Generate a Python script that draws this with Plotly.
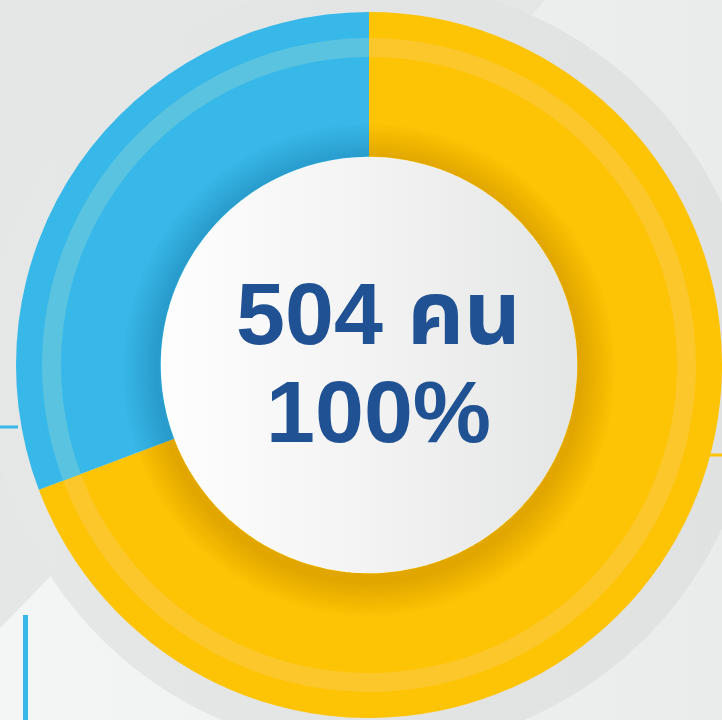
import numpy as np
import plotly.graph_objects as go

# ---------------- data ----------------
categories = ["กลุ่ม A", "กลุ่ม B"]
values = [349, 155]
slice_colors = ["#fdc305", "#37b8e8"]
band_colors = ["#fcc72a", "#5ac3e0"]
center_line1 = "504 คน"
center_line2 = "100%"

W, H = 722, 720
CX, CY = 369, 365      # donut centre (pixels, y down)
R = 353                 # outer radius
HOLE = 0.59
R_IN = R * HOLE
BAND_OUT, BAND_IN = 327, 308


def circle_pts(cx, cy, r, n=240, reverse=False):
    t = np.linspace(0, 2 * np.pi, n)
    if reverse:
        t = t[::-1]
    return cx + r * np.cos(t), cy + r * np.sin(t)


def annulus_path(cx_o, cy_o, r_o, cx_i, cy_i, r_i, n=200):
    xo, yo = circle_pts(cx_o, cy_o, r_o, n)
    xi, yi = circle_pts(cx_i, cy_i, r_i, n, reverse=True)
    p = "M" + " L".join(f"{x:.2f},{y:.2f}" for x, y in zip(xo, yo)) + " Z "
    p += "M" + " L".join(f"{x:.2f},{y:.2f}" for x, y in zip(xi, yi)) + " Z"
    return p


fig = go.Figure()

# background: light gradient
fig.add_trace(go.Scatter(
    x=[0, W, W, 0, 0], y=[0, 0, H, H, 0], mode="lines", line=dict(width=0),
    fill="toself", fillgradient=dict(type="horizontal",
                                     colorscale=[[0, "#f4f5f5"], [1, "#eaebeb"]]),
    hoverinfo="skip"))
# darker diagonal region (top-left)
fig.add_trace(go.Scatter(
    x=[0, 545, 47, 0, 0], y=[0, 0, 580, 628, 0], mode="lines", line=dict(width=0),
    fill="toself", fillcolor="#e5e6e6", hoverinfo="skip"))
# large grey circle behind donut
gx, gy = circle_pts(373, 366, 385)
fig.add_trace(go.Scatter(
    x=gx, y=gy, mode="lines", line=dict(width=0), fill="toself",
    fillgradient=dict(type="horizontal",
                      colorscale=[[0, "#e6e7e7"], [1, "#e0e1e1"]]),
    hoverinfo="skip"))
# connector lines
fig.add_trace(go.Scatter(x=[0, 18], y=[427, 427], mode="lines",
                         line=dict(color="#37b8e8", width=3), hoverinfo="skip"))
fig.add_trace(go.Scatter(x=[700, W], y=[455, 455], mode="lines",
                         line=dict(color="#fdc305", width=3), hoverinfo="skip"))
fig.add_trace(go.Scatter(x=[25.5, 25.5], y=[615, H], mode="lines",
                         line=dict(color="#37b8e8", width=5), hoverinfo="skip"))
# white centre disc with horizontal gradient
wx, wy = circle_pts(CX, CY, R_IN + 3)
fig.add_trace(go.Scatter(
    x=wx, y=wy, mode="lines", line=dict(width=0), fill="toself",
    fillgradient=dict(type="horizontal",
                      colorscale=[[0, "#fefefe"], [0.5, "#f3f3f3"], [1, "#e4e5e5"]]),
    hoverinfo="skip"))

# donut
fig.add_trace(go.Pie(
    labels=categories, values=values, hole=HOLE, sort=False, direction="clockwise",
    rotation=0, marker=dict(colors=slice_colors, line=dict(width=0)),
    textinfo="none", hoverinfo="label+value",
    domain=dict(x=[(CX - R) / W, min(1.0, (CX + R) / W)],
                y=[1 - (CY + R) / H, 1 - (CY - R) / H])))
# lighter band ring
fig.add_trace(go.Pie(
    labels=categories, values=values, hole=BAND_IN / BAND_OUT, sort=False,
    direction="clockwise", rotation=0,
    marker=dict(colors=band_colors, line=dict(width=0)),
    textinfo="none", hoverinfo="skip",
    domain=dict(x=[(CX - BAND_OUT) / W, (CX + BAND_OUT) / W],
                y=[1 - (CY + BAND_OUT) / H, 1 - (CY - BAND_OUT) / H])))

# inner shadow on the ring
shapes = []
N = 14
for k in range(N):
    ro = R_IN + 4 + (k + 1) * 34 / N
    shapes.append(dict(type="path", xref="x", yref="y", layer="above",
                       path=annulus_path(CX, CY + 5, ro, CX, CY, R_IN),
                       fillcolor="rgba(60,40,0,0.0095)", line=dict(width=0)))

FONT = "Liberation Sans, Noto Sans Thai, Arial, sans-serif"
annotations = [
    dict(x=378, y=313, xref="x", yref="y", text=f"<b>{center_line1}</b>", showarrow=False,
         font=dict(family=FONT, size=88, color="#1f5193"),
         xanchor="center", yanchor="middle", height=90),
    dict(x=378, y=411, xref="x", yref="y", text=f"<b>{center_line2}</b>", showarrow=False,
         font=dict(family=FONT, size=88, color="#1f5193"),
         xanchor="center", yanchor="middle", height=90),
]

fig.update_layout(
    width=W, height=H, margin=dict(l=0, r=0, t=0, b=0),
    paper_bgcolor="#eceded", plot_bgcolor="rgba(0,0,0,0)", showlegend=False,
    xaxis=dict(range=[0, W], visible=False, fixedrange=True),
    yaxis=dict(range=[H, 0], visible=False, fixedrange=True),
    shapes=shapes, annotations=annotations,
)

fig.write_html("out.html", config={"displayModeBar": False},
               post_script="document.body.style.margin='0';document.body.style.overflow='hidden';")
